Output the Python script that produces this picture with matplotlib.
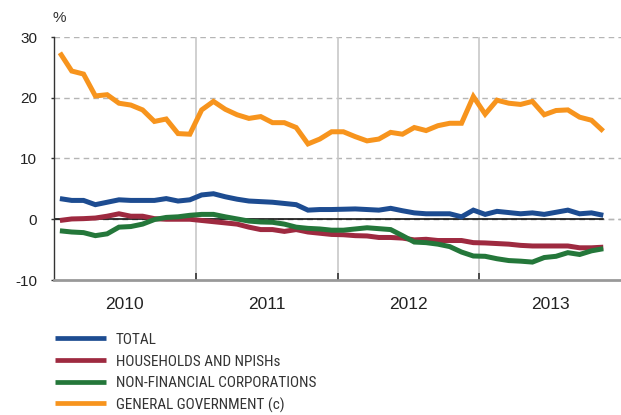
import matplotlib
matplotlib.use("Agg")
import matplotlib.pyplot as plt
from matplotlib import font_manager
import numpy as np

plt.rcParams['font.family'] = ['Liberation Sans', 'DejaVu Sans']

years = ["2010", "2011", "2012", "2013"]
labels = ["TOTAL", "HOUSEHOLDS AND NPISHs", "NON-FINANCIAL CORPORATIONS", "GENERAL GOVERNMENT (c)"]
colors = ["#1d4c91", "#9e2a40", "#24773a", "#f7941d"]

total = [3.4, 3.1, 3.1, 2.4, 2.8, 3.2, 3.1, 3.1, 3.1, 3.4, 3.0, 3.2,
         4.0, 4.2, 3.7, 3.3, 3.0, 2.9, 2.8, 2.6, 2.4, 1.5, 1.6, 1.6,
         1.65, 1.7, 1.6, 1.5, 1.8, 1.4, 1.05, 0.9, 0.9, 0.9, 0.4, 1.5,
         0.8, 1.3, 1.1, 0.9, 1.05, 0.8, 1.15, 1.5, 0.9, 1.05, 0.65]
households = [-0.2, 0.05, 0.1, 0.2, 0.5, 0.9, 0.5, 0.5, 0.1, 0.0, 0.0, 0.0,
              -0.2, -0.4, -0.6, -0.8, -1.3, -1.7, -1.7, -2.0, -1.7, -2.1, -2.3, -2.5,
              -2.55, -2.7, -2.75, -3.0, -3.0, -3.1, -3.4, -3.3, -3.5, -3.5, -3.5, -3.85,
              -3.9, -4.0, -4.1, -4.3, -4.4, -4.4, -4.4, -4.4, -4.7, -4.7, -4.6]
nonfin = [-1.9, -2.1, -2.2, -2.7, -2.4, -1.3, -1.2, -0.8, -0.05, 0.3, 0.4, 0.65,
          0.8, 0.8, 0.4, 0.05, -0.3, -0.45, -0.5, -0.8, -1.3, -1.5, -1.6, -1.8,
          -1.8, -1.6, -1.4, -1.55, -1.7, -2.7, -3.75, -3.85, -4.1, -4.5, -5.4, -6.05,
          -6.1, -6.5, -6.8, -6.9, -7.05, -6.3, -6.1, -5.5, -5.8, -5.2, -4.85]
government = [27.4, 24.4, 23.9, 20.3, 20.5, 19.1, 18.8, 18.0, 16.1, 16.5, 14.1, 14.0,
              18.0, 19.4, 18.1, 17.2, 16.6, 16.9, 15.9, 15.9, 15.1, 12.4, 13.2, 14.4,
              14.4, 13.6, 12.9, 13.2, 14.3, 14.0, 15.1, 14.6, 15.4, 15.8, 15.8, 20.2,
              17.3, 19.6, 19.1, 18.9, 19.4, 17.2, 17.9, 18.0, 16.8, 16.3, 14.5]
yticks = [-10, 0, 10, 20, 30]

series = [total, households, nonfin, government]
x = np.arange(len(total)) + 0.5

# pick a condensed font for the legend if one is installed
fonts = font_manager.fontManager.ttflist
names = {f.name for f in fonts}
leg_prop = None
for cand in ["Liberation Sans Narrow", "Roboto Condensed", "Open Sans Condensed", "Arial Narrow"]:
    if cand in names:
        leg_prop = dict(family=[cand], size=11)
        break
if leg_prop is None:
    cond = [f for f in fonts if f.name in ("DejaVu Sans", "Noto Sans", "Open Sans")
            and str(f.stretch) in ("condensed", "semi-condensed", "extra-condensed", "75", "87")]
    if cond:
        leg_prop = dict(fname=cond[0].fname, size=10.5)
if leg_prop is None:
    leg_prop = dict(family=["Liberation Sans"], size=10)

fig = plt.figure(figsize=(6.21, 4.15), dpi=100)
ax = fig.add_axes([54/621, (415-280)/415, 567/621, 243/415])
ax.set_xlim(0, 48)
ax.set_ylim(-10, 30)

for yv in yticks[1:]:
    ax.axhline(yv, color="#b5b5b5", lw=1.0, ls=(0, (4, 3)), zorder=1)
ax.axhline(0, color="#b5b5b5", lw=1.0, ls=(0, (4, 3)), zorder=1)
for b in [12, 24, 36]:
    ax.axvline(b, color="#c8c8c8", lw=1.2, zorder=1)
ax.plot([0, x[-1]], [0, 0], color="black", lw=1.1, zorder=2)

order = [2, 1, 0, 3]
for i in order:
    ax.plot(x, series[i], color=colors[i], lw=3.6, solid_joinstyle="miter",
            solid_capstyle="butt", zorder=3 + i)

for s in ["top", "right"]:
    ax.spines[s].set_visible(False)
ax.spines["left"].set_color("#333333")
ax.spines["left"].set_linewidth(1.0)
ax.spines["bottom"].set_color("#999999")
ax.spines["bottom"].set_linewidth(2.0)

ax.set_yticks(yticks)
ax.set_yticklabels([str(v) for v in yticks])
ax.tick_params(axis="y", length=2.5, width=1, color="#333333", pad=9.5,
               labelsize=11, labelcolor="#222222")
ax.set_xticks([12, 24, 36])
ax.set_xticklabels([])
ax.tick_params(axis="x", which="major", direction="in", length=5, width=1.2, color="#333333")
ax.set_xticks([6, 18, 30, 42], minor=True)
ax.set_xticklabels(years, minor=True)
ax.tick_params(axis="x", which="minor", length=0, pad=12, labelsize=12.5, labelcolor="#222222")

fig.text(59/621, 1 - 18/415, "%", ha="center", va="center", fontsize=11, color="#333333")

# legend drawn manually
W, H = 621, 415
for k, (lab, c) in enumerate(zip(labels, colors)):
    yc = 338.3 + 21.7 * k
    fig.add_artist(plt.Line2D([55/W, 106/W], [1 - yc/H, 1 - yc/H], color=c, lw=3.4,
                              solid_capstyle="butt", transform=fig.transFigure))
    if "fname" in leg_prop:
        fp = font_manager.FontProperties(fname=leg_prop["fname"], size=leg_prop["size"])
    else:
        fp = font_manager.FontProperties(family=leg_prop["family"], size=leg_prop["size"])
    fig.text(116/W, 1 - yc/H, lab, ha="left", va="center_baseline", fontproperties=fp,
             color="#333333")

fig.savefig("out.png", dpi=100)
